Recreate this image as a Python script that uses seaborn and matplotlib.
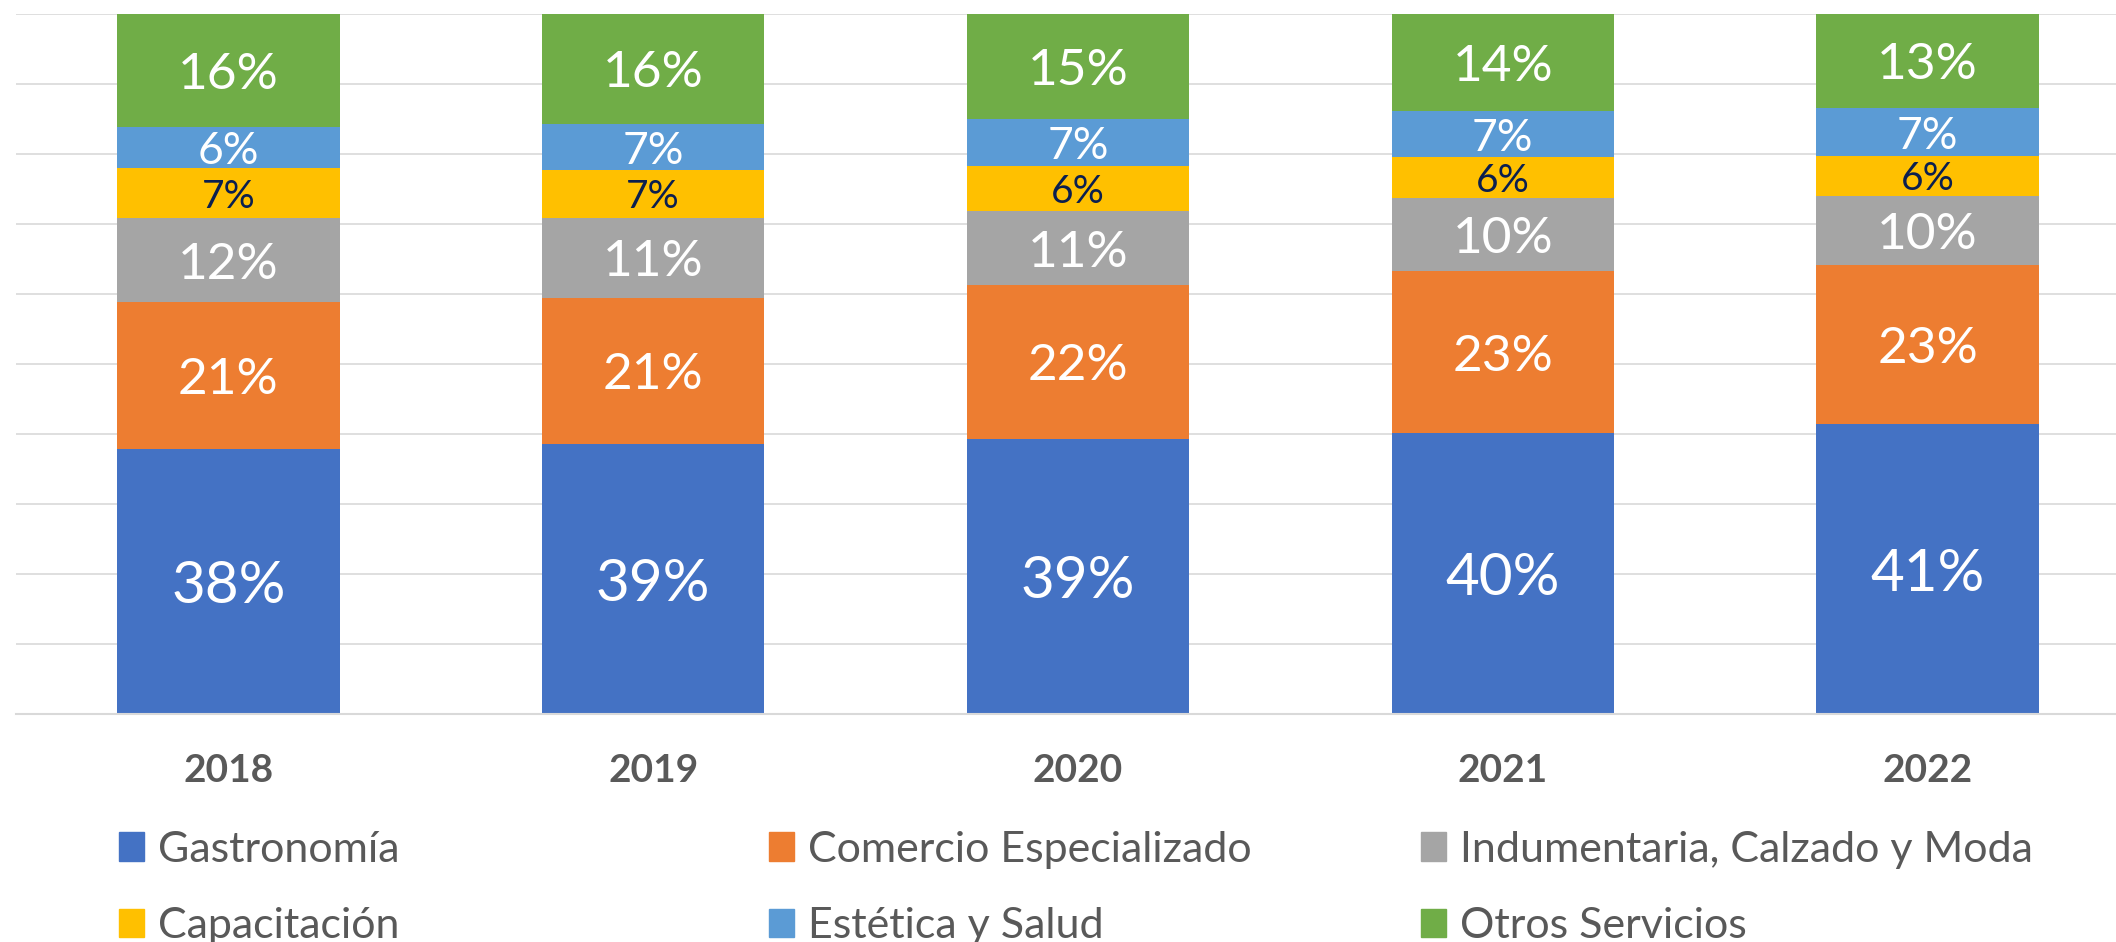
import pandas as pd
import matplotlib.pyplot as plt
import matplotlib.patches as mpatches
import seaborn as sns
import numpy as np

# datos (participacion % por rubro)
years = ['2018', '2019', '2020', '2021', '2022']
gastronomia = [37.9, 38.6, 39.35, 40.2, 41.45]
comercio = [21.0, 20.9, 21.95, 23.05, 22.7]
indumentaria = [11.9, 11.4, 10.55, 10.45, 9.9]
capacitacion = [7.15, 6.8, 6.45, 5.85, 5.65]
estetica = [5.85, 6.6, 6.7, 6.55, 6.9]
otros = [16.2, 15.7, 15.0, 13.9, 13.4]

series = ['Gastronomía', 'Comercio Especializado', 'Indumentaria, Calzado y Moda',
          'Capacitación', 'Estética y Salud', 'Otros Servicios']

df = pd.DataFrame({
    'Año': years,
    'Gastronomía': gastronomia,
    'Comercio Especializado': comercio,
    'Indumentaria, Calzado y Moda': indumentaria,
    'Capacitación': capacitacion,
    'Estética y Salud': estetica,
    'Otros Servicios': otros,
})
cum = df[series].cumsum(axis=1)

colors = ['#4472C4', '#ED7D31', '#A5A5A5', '#FFC000', '#5B9BD5', '#70AD47']
label_colors = ['white', 'white', 'white', '#0B1F4F', 'white', 'white']
label_sizes = [42, 37, 37, 28, 32, 37]

sns.set_theme(style='white')
plt.rcParams['font.family'] = ['Lato', 'DejaVu Sans']

fig = plt.figure(figsize=(21.16, 9.42), dpi=100)
ax = fig.add_axes([16 / 2116, 1 - 714.3 / 942, 2124 / 2116, 700.3 / 942])

# barras apiladas: se dibuja el acumulado de arriba hacia abajo
for name, color in reversed(list(zip(series, colors))):
    sns.barplot(x=df['Año'], y=cum[name], color=color, saturation=1,
                width=0.524, linewidth=0, ax=ax)

# etiquetas de porcentaje
for k, name in enumerate(series):
    for i, (v, c) in enumerate(zip(df[name], cum[name])):
        ax.text(i, c - v / 2, f'{v:.0f}%', ha='center', va='center_baseline',
                color=label_colors[k], fontsize=label_sizes[k])

ax.set_ylim(0, 100)
ax.set_xlim(-0.5, 4.5)
ax.set_yticks(np.arange(0, 101, 10))
ax.set_yticklabels([])
ax.yaxis.grid(True, color='#D9D9D9', linewidth=1.2)
ax.set_axisbelow(True)
ax.set_xlabel('')
ax.set_ylabel('')
for s in ['top', 'left', 'right']:
    ax.spines[s].set_visible(False)
ax.spines['bottom'].set_color('#D9D9D9')
ax.spines['bottom'].set_linewidth(1.5)

ax.set_xticks(np.arange(-0.5, 5, 1), minor=True)
ax.tick_params(axis='x', which='minor', length=9.5, width=1, color='#D9D9D9')
ax.tick_params(axis='x', which='major', length=0, pad=28, labelsize=28,
               labelcolor='#595959')
ax.tick_params(axis='y', length=0)
for t in ax.get_xticklabels():
    t.set_fontweight('bold')

# leyenda en tres columnas de igual ancho
handles = [mpatches.Patch(color=c, label=s) for s, c in zip(series, colors)]
col_x = [119, 769, 1421]
for j, x in enumerate(col_x):
    fig.legend(handles=[handles[j], handles[j + 3]], loc='center left',
               bbox_to_anchor=(x / 2116, 1 - 888 / 942), frameon=False,
               fontsize=31, labelcolor='#595959', borderpad=0, borderaxespad=0,
               handlelength=0.58, handleheight=0.63, handletextpad=0.33,
               labelspacing=0.9)

fig.savefig('out.png', dpi=100)
